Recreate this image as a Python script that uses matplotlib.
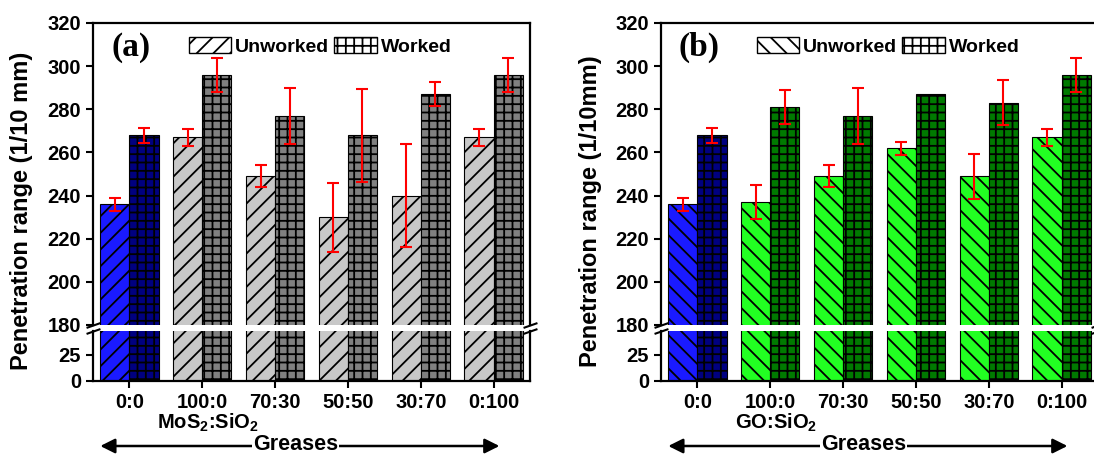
import numpy as np
import matplotlib
matplotlib.use('Agg')
import matplotlib.pyplot as plt
import matplotlib.transforms as mtransforms

plt.rcParams['font.family'] = ['Liberation Sans', 'DejaVu Sans']
plt.rcParams['font.weight'] = 'bold'
plt.rcParams['mathtext.fontset'] = 'custom'
plt.rcParams['mathtext.rm'] = 'Liberation Sans:bold'
plt.rcParams['mathtext.it'] = 'Liberation Sans:bold'
plt.rcParams['mathtext.bf'] = 'Liberation Sans:bold'
plt.rcParams['hatch.linewidth'] = 1.3
plt.rcParams['hatch.color'] = 'black'

ratios = ['0:0', '100:0', '70:30', '50:50', '30:70', '0:100']

mos_unw = [236, 267, 249, 230, 240, 267]
mos_unw_err = [3, 4, 5, 16, 24, 4]
mos_wrk = [268, 296, 277, 268, 287, 296]
mos_wrk_err = [3.5, 8, 13, 21.5, 5.5, 8]

go_unw = [236, 237, 249, 262, 249, 267]
go_unw_err = [3, 8, 5, 3, 10.5, 4]
go_wrk = [268, 281, 277, 287, 283, 296]
go_wrk_err = [3.5, 8, 13, np.nan, 10.5, 8]

panels = [
    dict(unw=mos_unw, unw_err=mos_unw_err, wrk=mos_wrk, wrk_err=mos_wrk_err,
         c_unw='#c8c8c8', c_wrk='#808080', h_unw='//', tag='(a)',
         ylabel='Penetration range (1/10 mm)', sub='MoS$_2$:SiO$_2$', left=93),
    dict(unw=go_unw, unw_err=go_unw_err, wrk=go_wrk, wrk_err=go_wrk_err,
         c_unw='#22ff22', c_wrk='#007a00', h_unw='\\\\', tag='(b)',
         ylabel='Penetration range (1/10mm)', sub='GO:SiO$_2$', left=661),
]

W, H = 1094, 457
fig = plt.figure(figsize=(W / 100, H / 100), dpi=100)

x = np.arange(len(ratios))
bw = 0.4
fs = 14.5

for p in panels:
    l = p['left'] / W
    w = 437 / W
    ax_top = fig.add_axes([l, 1 - 325 / H, w, (325 - 23) / H])
    ax_bot = fig.add_axes([l, 1 - 381 / H, w, (381 - 331) / H])

    c_unw = [p['c_unw']] * len(ratios)
    c_wrk = [p['c_wrk']] * len(ratios)
    c_unw[0] = '#1a1aff'
    c_wrk[0] = '#000080'

    for ax in (ax_top, ax_bot):
        ax.bar(x - bw / 2, p['unw'], bw, color=c_unw, edgecolor='black',
               linewidth=0.8, hatch=p['h_unw'])
        ax.bar(x + bw / 2, p['wrk'], bw, color=c_wrk, edgecolor='black',
               linewidth=0.8, hatch='++')
        ax.set_xlim(-0.5, 5.5)
        for s in ax.spines.values():
            s.set_linewidth(1.6)
        ax.tick_params(axis='both', direction='out', length=5, width=1.5,
                       labelsize=fs, right=False, top=False, pad=3.5)

    ax_top.errorbar(x - bw / 2, p['unw'], yerr=p['unw_err'], fmt='none',
                    ecolor='red', elinewidth=1.5, capsize=4, capthick=1.5)
    ax_top.errorbar(x + bw / 2, p['wrk'], yerr=p['wrk_err'], fmt='none',
                    ecolor='red', elinewidth=1.5, capsize=4, capthick=1.5)

    ax_top.set_ylim(180, 320)
    ax_top.set_yticks(np.arange(180, 321, 20))
    ax_top.spines['bottom'].set_visible(False)
    ax_top.tick_params(axis='x', bottom=False, labelbottom=False)

    ax_bot.set_ylim(0, 48)
    ax_bot.set_yticks([0, 25])
    ax_bot.spines['top'].set_visible(False)
    ax_bot.set_xticks(x)
    ax_bot.set_xticklabels(ratios)
    ax_bot.tick_params(axis='x', pad=4)

    # break marks
    kw = dict(marker=[(-1, -0.35), (1, 0.35)], markersize=10, linestyle='none',
              color='k', mec='k', mew=1.5, clip_on=False)
    ax_top.plot([0, 1], [0, 0], transform=ax_top.transAxes, **kw)
    ax_bot.plot([0, 1], [1, 1], transform=ax_bot.transAxes, **kw)

    # y label, centred over both parts
    fig.text((p['left'] - 71) / W, 1 - 211 / H, p['ylabel'], rotation=90,
             ha='center', va='center', fontsize=17, fontweight='bold')

    ax_top.text(0.087, 0.92, p['tag'], transform=ax_top.transAxes,
                fontsize=24, fontweight='bold', family='Liberation Serif',
                ha='center', va='center')

    leg_handles = [
        plt.Rectangle((0, 0), 1, 1, facecolor='white', edgecolor='black',
                      hatch=p['h_unw'], linewidth=1),
        plt.Rectangle((0, 0), 1, 1, facecolor='white', edgecolor='black',
                      hatch='++', linewidth=1),
    ]
    ax_top.legend(leg_handles, ['Unworked', 'Worked'], loc='upper center',
                  bbox_to_anchor=(0.52, 1.0), ncol=2, frameon=False,
                  fontsize=14, handlelength=2.2, handleheight=0.95,
                  handletextpad=0.2, columnspacing=0.25, borderaxespad=0.3)

    trans = mtransforms.blended_transform_factory(ax_bot.transData, fig.transFigure)
    ax_bot.text(1.08, 1 - 423 / H, p['sub'], transform=trans, ha='center',
                va='center', fontsize=fs)
    ax_bot.annotate('', xy=(5.08, 1 - 446 / H), xytext=(-0.4, 1 - 446 / H),
                    xycoords=trans, textcoords=trans, annotation_clip=False,
                    arrowprops=dict(arrowstyle='<|-|>', color='black', lw=1.8,
                                    mutation_scale=22, shrinkA=0, shrinkB=0))
    ax_bot.text(2.28, 1 - 445 / H, 'Greases', transform=trans, ha='center',
                va='center', fontsize=15.5, fontweight='bold',
                bbox=dict(facecolor='white', edgecolor='none', pad=0.5))

fig.savefig('out.png', dpi=100)
